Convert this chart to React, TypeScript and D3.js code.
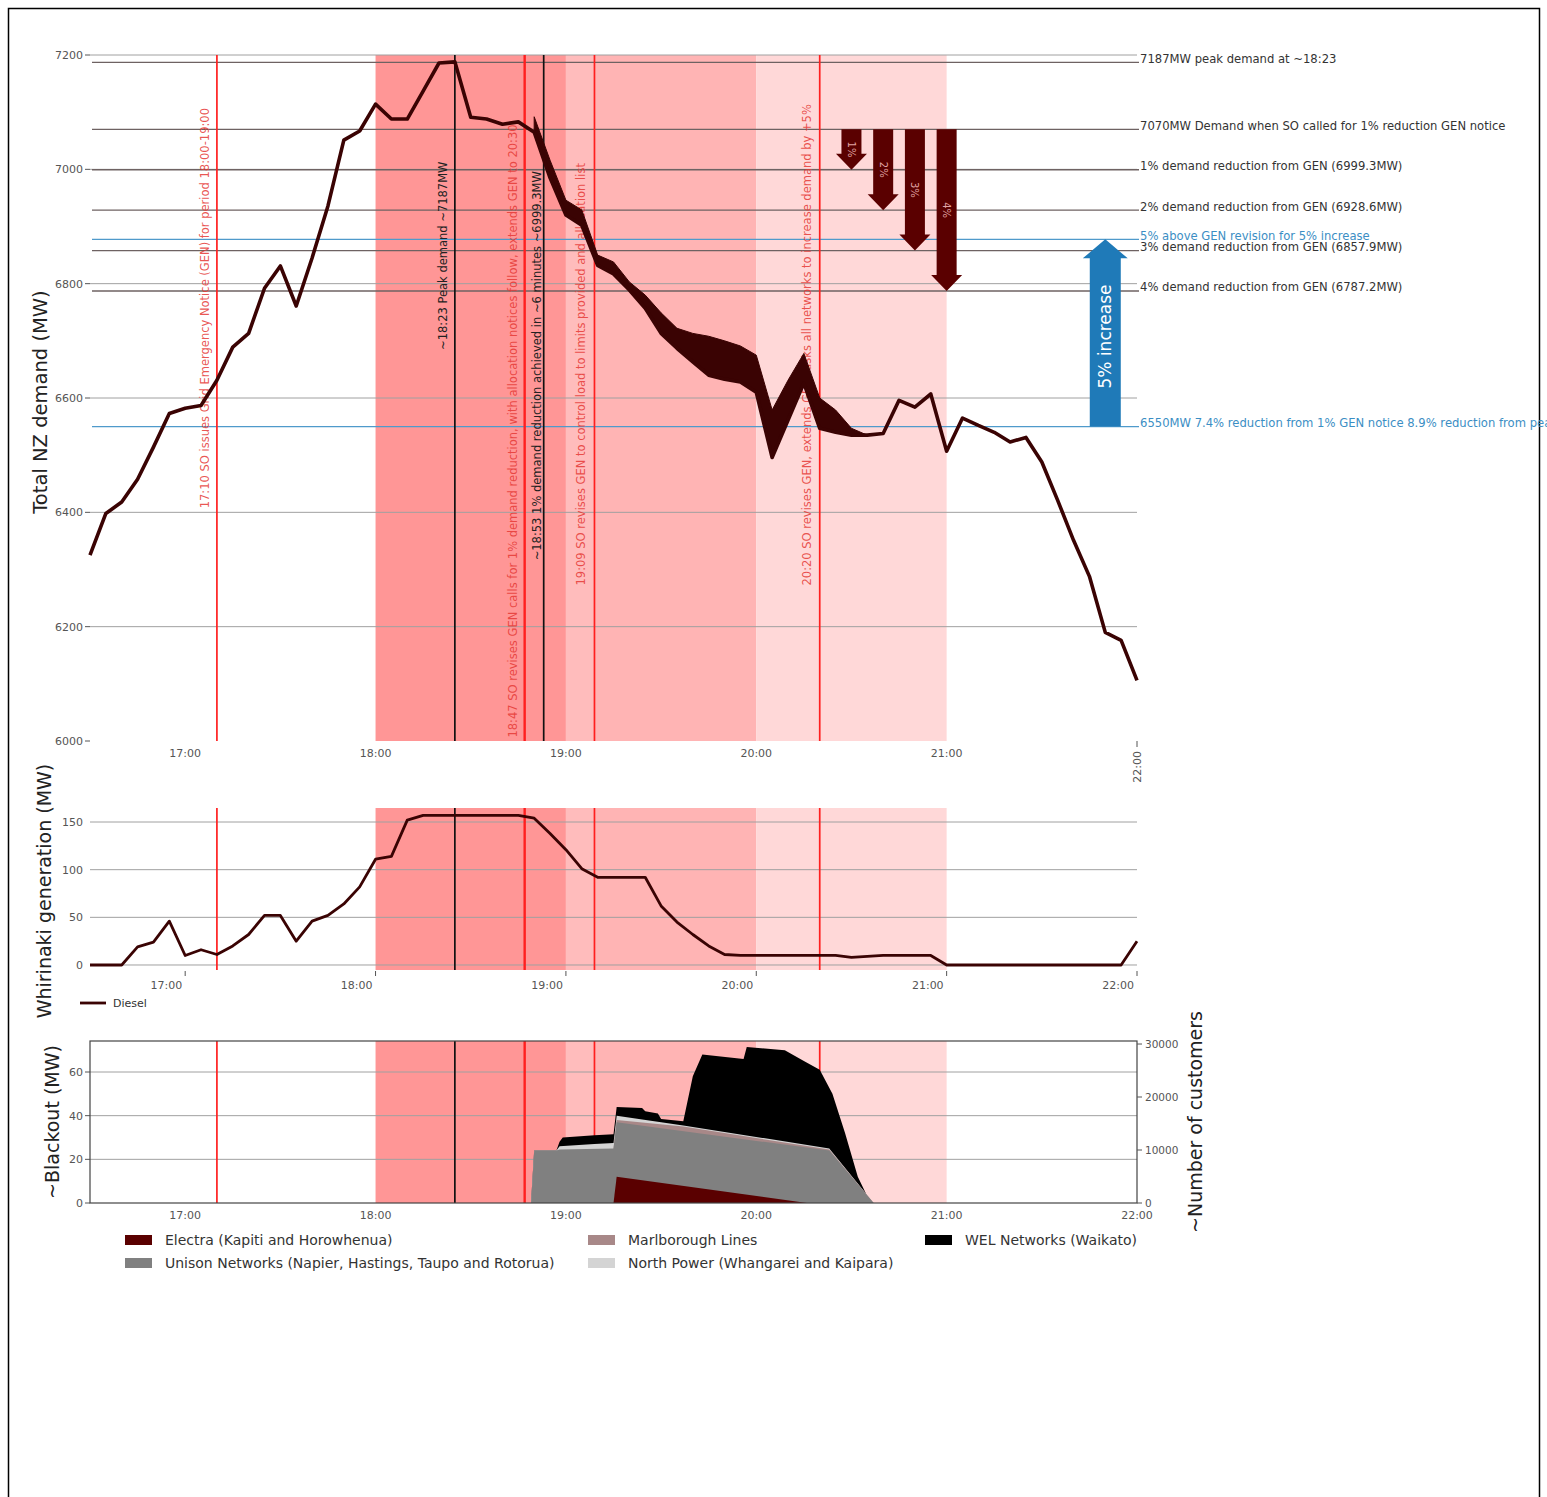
import React from "react";
import * as d3 from "d3";

// ---------------- data ----------------
const seriesStart = "16:30";
const seriesEnd = "22:00";
const stepMinutes = 5;

// Total NZ demand (MW), 5-minute intervals 16:30 - 22:00
const totalDemandMW = [
  6325, 6398, 6418, 6458, 6514, 6573, 6582, 6587, 6631, 6689,
  6713, 6792, 6831, 6761, 6845, 6936, 7051, 7067, 7114, 7088,
  7088, 7137, 7186, 7188, 7091, 7088, 7079, 7083, 7065, 6985,
  6920, 6902, 6832, 6817, 6789, 6757, 6713, 6687, 6663, 6640,
  6633, 6628, 6610, 6496, 6561, 6626, 6547, 6540, 6535, 6535,
  6538, 6596, 6584, 6607, 6507, 6565, 6552, 6540, 6523, 6531,
  6488, 6421, 6351, 6288, 6190, 6176, 6106,
];

// Demand plus estimated blackout (upper edge of the dark band), 18:50 - 20:35
const bandStart = "18:50";
const demandPlusBlackoutMW = [
  7092, 7016, 6946, 6929, 6850, 6838, 6803, 6780, 6749, 6722,
  6713, 6708, 6700, 6691, 6675, 6579, 6631, 6678, 6600, 6579,
  6547, 6535,
];

// Whirinaki diesel generation (MW), 5-minute intervals 16:30 - 22:00
const whirinakiDieselMW = [
  0, 0, 0, 19, 24, 46, 10, 16, 11, 20,
  32, 52, 52, 25, 46, 52, 64, 82, 111, 114,
  152, 157, 157, 157, 157, 157, 157, 157, 154, 138,
  121, 101, 92, 92, 92, 92, 62, 45, 32, 20,
  11, 10, 10, 10, 10, 10, 10, 10, 8, 9,
  10, 10, 10, 10, 0, 0, 0, 0, 0, 0,
  0, 0, 0, 0, 0, 0, 25,
];

// Blackout stack: cumulative top edge of each network layer (MW)
const electraTimes = ["19:15", "19:16", "20:16"];
const electraTopMW = [0, 12, 0];
const unisonTimes = ["18:49", "18:50", "18:57", "18:58", "19:15", "19:16", "20:23", "20:37"];
const unisonTopMW = [0, 24, 24, 24.5, 25, 37, 24, 0];
const marlboroughTimes = ["19:15", "19:16", "19:37", "20:23", "20:37"];
const marlboroughTopMW = [25, 38, 35, 24.5, 0];
const northPowerTimes = ["18:49", "18:50", "18:57", "18:58", "19:09", "19:15", "19:16", "19:30", "19:37", "20:23", "20:37"];
const northPowerTopMW = [0, 24, 24, 26, 27, 27.5, 40, 37, 35.5, 25, 0];
const welTimes = [
  "18:49", "18:50", "18:57", "18:58", "18:59", "19:09", "19:15", "19:16", "19:24", "19:25",
  "19:29", "19:30", "19:37", "19:40", "19:43", "19:56", "19:57", "20:09", "20:15", "20:20",
  "20:24", "20:28", "20:32", "20:36",
];
const welTopMW = [
  0, 24, 24, 28, 30, 31, 31.5, 44, 43.5, 42,
  41, 38.5, 37.5, 58, 68, 66, 71.5, 70, 65, 61,
  50, 32, 12, 0,
];

const hourTicks = ["17:00", "18:00", "19:00", "20:00", "21:00", "22:00"];
const demandTicks = [6000, 6200, 6400, 6600, 6800, 7000, 7200];
const dieselTicks = [0, 50, 100, 150];
const blackoutTicks = [0, 20, 40, 60];
const customerTicks = [0, 10000, 20000, 30000];

const shadeSpans = [
  { from: "18:00", to: "19:00", level: 0 },
  { from: "19:00", to: "19:09", level: 1 },
  { from: "19:09", to: "20:00", level: 2 },
  { from: "20:00", to: "21:00", level: 3 },
];

const events = [
  { time: "17:10", kind: "red", allPanels: true, note: "17:10 SO issues Grid Emergency Notice (GEN) for period 18:00-19:00" },
  { time: "18:25", kind: "black", allPanels: true, note: "~18:23 Peak demand ~7187MW" },
  { time: "18:47", kind: "red", allPanels: true, note: "18:47 SO revises GEN calls for 1% demand reduction, with allocation notices follow, extends GEN to 20:30" },
  { time: "18:53", kind: "black", allPanels: false, note: "~18:53 1% demand reduction achieved in ~6 minutes ~6999.3MW" },
  { time: "19:09", kind: "red", allPanels: true, note: "19:09 SO revises GEN to control load to limits provided and allocation list" },
  { time: "20:20", kind: "red", allPanels: true, note: "20:20 SO revises GEN, extends GEN, asks all networks to increase demand by +5%" },
];

const refLines = [
  { value: 7187, kind: "grey", label: "7187MW peak demand at ~18:23" },
  { value: 7070, kind: "grey", label: "7070MW Demand when SO called for 1% reduction GEN notice" },
  { value: 6999.3, kind: "grey", label: "1% demand reduction from GEN (6999.3MW)" },
  { value: 6928.6, kind: "grey", label: "2% demand reduction from GEN (6928.6MW)" },
  { value: 6877.5, kind: "blue", label: "5% above GEN revision for 5% increase" },
  { value: 6857.9, kind: "grey", label: "3% demand reduction from GEN (6857.9MW)" },
  { value: 6787.2, kind: "grey", label: "4% demand reduction from GEN (6787.2MW)" },
  { value: 6550, kind: "blue", label: "6550MW 7.4% reduction from 1% GEN notice 8.9% reduction from peak" },
];

const reductionArrows = [
  { time: "20:30", from: 7070, to: 6999.3, label: "1%" },
  { time: "20:40", from: 7070, to: 6928.6, label: "2%" },
  { time: "20:50", from: 7070, to: 6857.9, label: "3%" },
  { time: "21:00", from: 7070, to: 6787.2, label: "4%" },
];
const increaseArrow = { time: "21:50", from: 6550, to: 6877.5, label: "5% increase" };

const legendItems = [
  { key: "electra", name: "Electra (Kapiti and Horowhenua)" },
  { key: "unison", name: "Unison Networks (Napier, Hastings, Taupo and Rotorua)" },
  { key: "marlborough", name: "Marlborough Lines" },
  { key: "northpower", name: "North Power (Whangarei and Kaipara)" },
  { key: "wel", name: "WEL Networks (Waikato)" },
];

// ---------------- styling ----------------
const FONT = "DejaVu Sans";
const shadeColors = ["#ff9696", "#ffbcbc", "#ffb4b4", "#ffd8d8"];
const layerColors: Record<string, string> = {
  electra: "#5a0000",
  unison: "#808080",
  marlborough: "#a88888",
  northpower: "#d4d4d4",
  wel: "#000000",
};
const DARK = "#3a0303";
const RED = "#ff1f1f";
const BLUE = "#4f9acb";
const GRID = "#a0a0a0";
const TICK = "#555";
const TICK_FS = 11;

const toMin = (s: string) => {
  const [h, m] = s.split(":").map(Number);
  return h * 60 + m;
};

// per-note placement (MW where the rotated text starts, px offset from line)
const noteStartMW: Record<string, number> = {
  "17:10": 6407, "18:25": 6684, "18:47": 6006, "18:53": 6316, "19:09": 6272, "20:20": 6272,
};
const noteOffset: Record<string, number> = {
  "17:10": -12, "18:25": -12, "18:47": -12, "18:53": -7, "19:09": -13, "20:20": -13,
};

export default function App() {
  const t0 = toMin(seriesStart);
  const x = d3.scaleLinear().domain([toMin(seriesStart), toMin(seriesEnd)]).range([90, 1137]);
  const yT = d3.scaleLinear().domain([6000, 7200]).range([741, 55]);
  const yM = d3.scaleLinear().domain([-5.25, 164.7]).range([970, 808]);
  const yB = d3.scaleLinear().domain([0, 74.2]).range([1203, 1041]);
  const yC = d3.scaleLinear().domain([0, 30570]).range([1203, 1041]);

  const panels = [
    { top: 55, bottom: 741 },
    { top: 808, bottom: 970 },
    { top: 1041, bottom: 1203 },
  ];
  const xL = x.range()[0];
  const xR = x.range()[1];

  const demandLine = d3
    .line<number>()
    .x((_, i) => x(t0 + i * stepMinutes))
    .y((d) => yT(d))(totalDemandMW) as string;

  const bandIdx = (toMin(bandStart) - t0) / stepMinutes;
  const band = d3
    .area<number>()
    .x((_, i) => x(toMin(bandStart) + i * stepMinutes))
    .y0((_, i) => yT(totalDemandMW[bandIdx + i]))
    .y1((d) => yT(d))(demandPlusBlackoutMW) as string;

  const dieselLine = d3
    .line<number>()
    .x((_, i) => x(t0 + i * stepMinutes))
    .y((d) => yM(d))(whirinakiDieselMW) as string;

  const layerArea = (times: string[], vals: number[]) =>
    d3
      .area<number>()
      .x((_, i) => x(toMin(times[i])))
      .y0(yB(0))
      .y1((d) => yB(d))(vals) as string;

  const stackDraw = [
    { key: "wel", path: layerArea(welTimes, welTopMW) },
    { key: "northpower", path: layerArea(northPowerTimes, northPowerTopMW) },
    { key: "marlborough", path: layerArea(marlboroughTimes, marlboroughTopMW) },
    { key: "unison", path: layerArea(unisonTimes, unisonTopMW) },
    { key: "electra", path: layerArea(electraTimes, electraTopMW) },
  ];

  const arrowPts = (cx: number, y0: number, y1: number, sw: number, hw: number, hl: number) => {
    const dir = Math.sign(y1 - y0);
    const hb = y1 - dir * hl;
    return [
      [cx - sw / 2, y0], [cx + sw / 2, y0], [cx + sw / 2, hb], [cx + hw / 2, hb],
      [cx, y1], [cx - hw / 2, hb], [cx - sw / 2, hb],
    ]
      .map((p) => p.join(","))
      .join(" ");
  };

  const shading = (p: { top: number; bottom: number }, k: string) =>
    shadeSpans.map((s, i) => (
      <rect
        key={k + "s" + i}
        x={x(toMin(s.from))}
        y={p.top}
        width={x(toMin(s.to)) - x(toMin(s.from))}
        height={p.bottom - p.top}
        fill={shadeColors[s.level]}
      />
    ));

  const vlines = (p: { top: number; bottom: number }, k: string, top: boolean) =>
    events
      .filter((e) => top || e.allPanels)
      .map((e, i) => (
        <line
          key={k + "v" + i}
          x1={x(toMin(e.time))}
          x2={x(toMin(e.time))}
          y1={p.top}
          y2={p.bottom}
          stroke={e.kind === "red" ? RED : "#111"}
          strokeWidth={e.time === "18:47" ? 2.4 : 1.7}
        />
      ));

  return (
    <svg
      width={1547}
      height={1497}
      style={{ position: "absolute", left: 0, top: 0, background: "#fff" }}
      fontFamily={FONT}
    >
      <rect x={0} y={0} width={1547} height={1497} fill="#fff" />
      <rect x={8.5} y={8.5} width={1531} height={1495} fill="none" stroke="#000" strokeWidth={1.5} />

      {/* ================= TOP PANEL ================= */}
      {shading(panels[0], "t")}
      {demandTicks.map((v) => (
        <g key={"tg" + v}>
          {v > 6000 && <line x1={xL} x2={xR} y1={yT(v)} y2={yT(v)} stroke={GRID} strokeWidth={1} />}
          <line x1={85} x2={90} y1={yT(v)} y2={yT(v)} stroke={TICK} strokeWidth={1} />
          <text x={83} y={yT(v)} dy="0.35em" textAnchor="end" fontSize={TICK_FS} fill={TICK}>
            {v}
          </text>
        </g>
      ))}
      {refLines.map((r) => (
        <g key={"r" + r.value}>
          <line
            x1={xL + 2}
            x2={xR + 2}
            y1={yT(r.value)}
            y2={yT(r.value)}
            stroke={r.kind === "blue" ? BLUE : "#6e6262"}
            strokeWidth={1.3}
          />
          <text
            x={xR + 3}
            y={yT(r.value) + 0.5}
            fontSize={11.6}
            fill={r.kind === "blue" ? "#3b8ec4" : "#333"}
          >
            {r.label}
          </text>
        </g>
      ))}
      {vlines(panels[0], "t", true)}
      {events.map((e) => (
        <text
          key={"n" + e.time}
          transform={`translate(${x(toMin(e.time)) + noteOffset[e.time]},${yT(noteStartMW[e.time])}) rotate(-90)`}
          dy="0.35em"
          fontSize={11.5}
          fill={e.kind === "red" ? "#e53935" : "#222"}
          fillOpacity={e.kind === "red" ? 0.85 : 1}
        >
          {e.note}
        </text>
      ))}
      <path d={band} fill={DARK} stroke={DARK} strokeWidth={1} />
      <path d={demandLine} fill="none" stroke={DARK} strokeWidth={3.6} strokeLinejoin="round" />

      {reductionArrows.map((a) => {
        const cx = x(toMin(a.time));
        const y0 = yT(a.from);
        const y1 = yT(a.to);
        return (
          <g key={"ra" + a.label}>
            <polygon points={arrowPts(cx, y0, y1, 20, 31, 16)} fill="#5a0000" />
            <text
              transform={`translate(${cx},${(y0 + y1) / 2}) rotate(90)`}
              textAnchor="middle"
              dy="0.35em"
              fontSize={10}
              fill="#e0a4a4"
            >
              {a.label}
            </text>
          </g>
        );
      })}
      {(() => {
        const cx = x(toMin(increaseArrow.time));
        const y0 = yT(increaseArrow.from);
        const y1 = yT(increaseArrow.to);
        return (
          <g>
            <polygon points={arrowPts(cx, y0, y1, 31, 45, 19)} fill="#1f7ab8" />
            <text
              transform={`translate(${cx},${(y0 + y1 + 19) / 2 - 6}) rotate(-90)`}
              textAnchor="middle"
              dy="0.35em"
              fontSize={17}
              fill="#fff"
            >
              {increaseArrow.label}
            </text>
          </g>
        );
      })()}

      {hourTicks.map((h, i) =>
        i < hourTicks.length - 1 ? (
          <text key={"tx" + h} x={x(toMin(h))} y={757} textAnchor="middle" fontSize={TICK_FS} fill={TICK}>
            {h}
          </text>
        ) : (
          <g key={"tx" + h}>
            <line x1={x(toMin(h))} x2={x(toMin(h))} y1={741} y2={747} stroke={TICK} />
            <text
              transform={`translate(${x(toMin(h))},${751}) rotate(-90)`}
              textAnchor="end"
              dy="0.35em"
              fontSize={TICK_FS}
              fill={TICK}
            >
              {h}
            </text>
          </g>
        )
      )}
      <text
        transform={`translate(40,${(panels[0].top + panels[0].bottom) / 2 + 4}) rotate(-90)`}
        textAnchor="middle"
        dy="0.35em"
        fontSize={19.5}
        fill="#222"
      >
        Total NZ demand (MW)
      </text>

      {/* ================= MIDDLE PANEL ================= */}
      {shading(panels[1], "m")}
      {dieselTicks.map((v) => (
        <g key={"mg" + v}>
          <line x1={xL} x2={xR} y1={yM(v)} y2={yM(v)} stroke={GRID} strokeWidth={1} />
          <text x={83} y={yM(v)} dy="0.35em" textAnchor="end" fontSize={TICK_FS} fill={TICK}>
            {v}
          </text>
        </g>
      ))}
      {vlines(panels[1], "m", false)}
      <path d={dieselLine} fill="none" stroke={DARK} strokeWidth={2.8} strokeLinejoin="round" />
      {hourTicks.map((h) => (
        <g key={"mx" + h}>
          <line x1={x(toMin(h))} x2={x(toMin(h))} y1={971} y2={976} stroke={TICK} />
          <text x={x(toMin(h)) - 3} y={989} textAnchor="end" fontSize={TICK_FS} fill={TICK}>
            {h}
          </text>
        </g>
      ))}
      <line x1={80} x2={106} y1={1003} y2={1003} stroke={DARK} strokeWidth={2.8} />
      <text x={113} y={1003} dy="0.35em" fontSize={11} fill="#333">
        Diesel
      </text>
      <text
        transform={`translate(44,${(panels[1].top + panels[1].bottom) / 2 + 2}) rotate(-90)`}
        textAnchor="middle"
        dy="0.35em"
        fontSize={19}
        fill="#222"
      >
        Whirinaki generation (MW)
      </text>

      {/* ================= BOTTOM PANEL ================= */}
      {shading(panels[2], "b")}
      {blackoutTicks.map((v) => (
        <g key={"bg" + v}>
          {v > 0 && <line x1={xL} x2={xR} y1={yB(v)} y2={yB(v)} stroke={GRID} strokeWidth={1} />}
          <line x1={85} x2={90} y1={yB(v)} y2={yB(v)} stroke={TICK} />
          <text x={83} y={yB(v)} dy="0.35em" textAnchor="end" fontSize={TICK_FS} fill={TICK}>
            {v}
          </text>
        </g>
      ))}
      {vlines(panels[2], "b", false)}
      {stackDraw.map((l) => (
        <path key={"st" + l.key} d={l.path} fill={layerColors[l.key]} />
      ))}
      <rect
        x={xL}
        y={panels[2].top}
        width={xR - xL}
        height={panels[2].bottom - panels[2].top}
        fill="none"
        stroke="#444"
        strokeWidth={1.2}
      />
      {customerTicks.map((v) => (
        <g key={"cg" + v}>
          <line x1={xR} x2={xR + 5} y1={yC(v)} y2={yC(v)} stroke={TICK} />
          <text x={xR + 8} y={yC(v)} dy="0.35em" fontSize={TICK_FS - 0.5} fill={TICK}>
            {v}
          </text>
        </g>
      ))}
      {hourTicks.map((h) => (
        <text key={"bx" + h} x={x(toMin(h))} y={1219} textAnchor="middle" fontSize={TICK_FS} fill={TICK}>
          {h}
        </text>
      ))}
      <text
        transform={`translate(52,${(panels[2].top + panels[2].bottom) / 2}) rotate(-90)`}
        textAnchor="middle"
        dy="0.35em"
        fontSize={19}
        fill="#222"
      >
        ~Blackout (MW)
      </text>
      <text
        transform={`translate(1195,${(panels[2].top + panels[2].bottom) / 2}) rotate(-90)`}
        textAnchor="middle"
        dy="0.35em"
        fontSize={19}
        fill="#222"
      >
        ~Number of customers
      </text>

      {legendItems.map((it, i) => {
        const col = Math.floor(i / 2);
        const row = i % 2;
        const lx = [125, 588, 925][col];
        const ly = 1240 + row * 23;
        return (
          <g key={"lg" + it.key}>
            <rect x={lx} y={ly - 5} width={27} height={10} fill={layerColors[it.key]} />
            <text x={lx + 40} y={ly} dy="0.35em" fontSize={14} fill="#333">
              {it.name}
            </text>
          </g>
        );
      })}
    </svg>
  );
}
